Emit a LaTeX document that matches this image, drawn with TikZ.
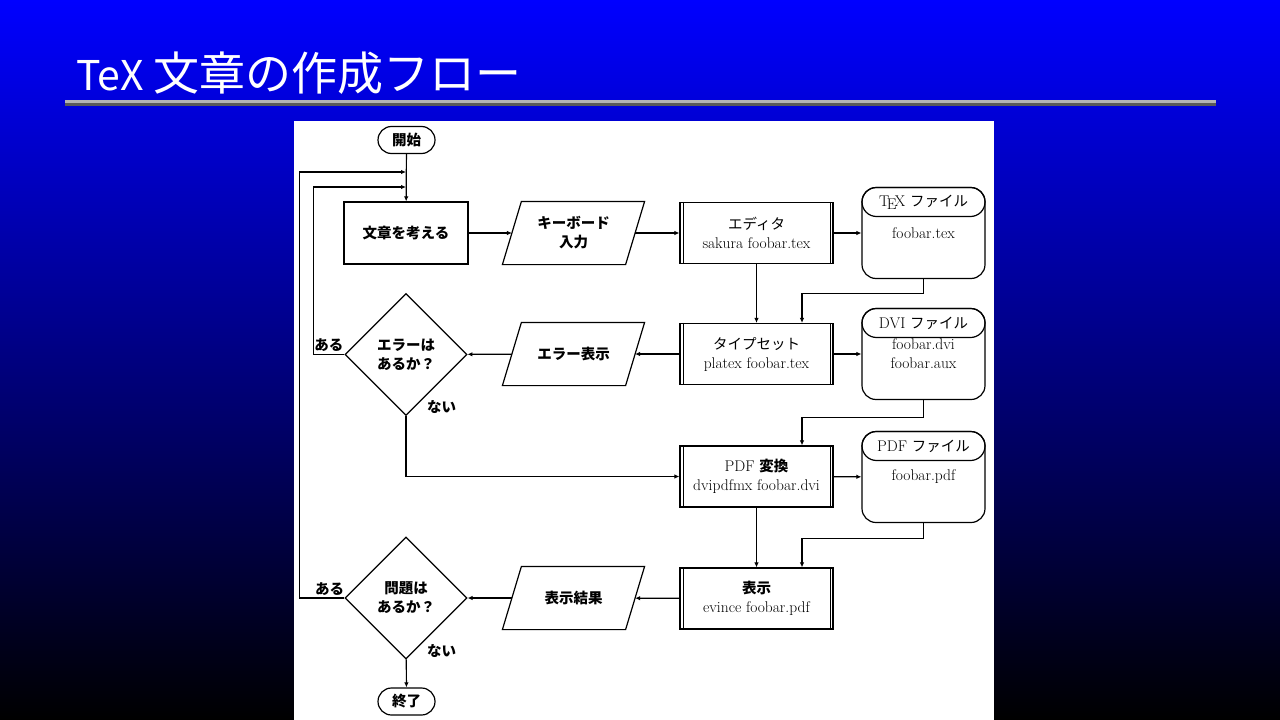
\documentclass[tikz,border=0pt]{standalone}
\usepackage{fontspec}
\usetikzlibrary{arrows.meta,shapes.geometric,shapes.misc,positioning,calc}
\newfontfamily\jpfont{Noto Sans CJK JP}
\newcommand\jpbold{\jpfont\bfseries}
\newcommand\jpreg{\jpfont\fontsize{14.5}{19}\selectfont}
\newcommand\jpboldreg{\jpbold\fontsize{14.5}{19}\selectfont}
\definecolor{rulelight}{HTML}{B4B4B4}
\definecolor{ruledark}{HTML}{5A5A5A}
\tikzset{
    base/.style={draw, line width=1.2pt, inner sep=2pt, align=center, font=\fontsize{15.5}{19}\selectfont},
    jb/.style={font=\jpboldreg},
    terminal/.style={base, jb, rounded rectangle, minimum width=61pt, minimum height=27pt},
    process/.style={base, jb, rectangle, minimum width=124pt, minimum height=62pt},
    predef/.style={base, rectangle, minimum width=153pt, minimum height=61pt},
    iobox/.style={base, jb, draw=none, minimum width=122pt, minimum height=62pt},
    decision/.style={base, jb, diamond, aspect=1, minimum width=122pt, minimum height=122pt, inner sep=0pt},
    filebox/.style={base, rounded corners=14pt, minimum width=123pt, minimum height=91pt},
    filehead/.style={base, rounded rectangle, minimum width=123pt, minimum height=29pt, inner sep=0pt},
    flow/.style={line width=1.2pt, -{Latex[length=5pt,width=4.5pt]}},
    branch/.style={jb, inner sep=2pt},
}
\begin{document}
\begin{tikzpicture}[x=1pt, y=-1pt]
    \useasboundingbox (0,0) rectangle (1280,720);
    % 背景
    \shade[top color=blue, bottom color=black] (0,0) rectangle (1280,720);
    \node[anchor=base west, text=white, inner sep=0pt] (title) at (76,90)
        {\fontsize{41}{41}\selectfont\jpfont TeX {\fontsize{46}{46}\selectfont 文章の作成フロー}};
    \fill[rulelight] (65,100) rectangle (1216,102.7);
    \fill[ruledark] (65,102.7) rectangle (1216,105.7);
    \fill[white] (294,121) rectangle (994,720);

    % 左の列
    \node[terminal] (start) at (406.5,140) {開始};
    \node[process] (think) at (406,233) {文章を考える};
    \node[decision] (q1) at (406,354.5) {エラーは\\あるか？};
    \node[decision] (q2) at (406,598) {問題は\\あるか？};
    \node[terminal] (end) at (406.5,701.5) {終了};
    \coordinate (j1) at (406,172);
    \coordinate (j2) at (406,187);

    % 入出力
    \node[iobox] (kb) at (573.5,233) {キーボード\\入力};
    \node[iobox] (err) at (573.5,354) {エラー表示};
    \node[iobox] (res) at (573.5,598) {表示結果};
    \foreach \n in {kb,err,res}
        \draw[line width=1.2pt] ([xshift=9.5pt]\n.north west) -- ([xshift=9.5pt]\n.north east)
            -- ([xshift=-9.5pt]\n.south east) -- ([xshift=-9.5pt]\n.south west) -- cycle;

    % 処理
    \node[predef] (edit) at (756.5,233) {{\jpreg エディタ}\\sakura foobar.tex};
    \node[predef] (tset) at (756.5,354) {{\jpreg タイプセット}\\platex foobar.tex};
    \node[predef] (pdf) at (756.5,476.5) {PDF {\jpboldreg 変換}\\dvipdfmx foobar.dvi};
    \node[predef] (disp) at (756.5,598.5) {{\jpboldreg 表示}\\evince foobar.pdf};
    \foreach \n in {edit,tset,pdf,disp} {
        \draw[line width=0.8pt] ([xshift=3.5pt]\n.north west) -- ([xshift=3.5pt]\n.south west);
        \draw[line width=0.8pt] ([xshift=-3.5pt]\n.north east) -- ([xshift=-3.5pt]\n.south east);
    }

    % ファイル
    \node[filebox] (texfile) at (923.5,233) {foobar.tex};
    \node[filehead, anchor=north] (texhead) at (texfile.north) {\TeX\ {\jpreg ファイル}};
    \node[filebox] (dvifile) at (923.5,354) {foobar.dvi\\foobar.aux};
    \node[filehead, anchor=north] (dvihead) at (dvifile.north) {DVI {\jpreg ファイル}};
    \node[filebox] (pdffile) at (923.5,477) {foobar.pdf};
    \node[filehead, anchor=north] (pdfhead) at (pdffile.north) {PDF {\jpreg ファイル}};

    % 矢印
    \draw[flow] (start) -- (think);
    \draw[flow] (think) -- (kb);
    \draw[flow] (kb) -- (edit);
    \draw[flow] (edit) -- (texfile);
    \draw[flow] (edit) -- (tset);
    \draw[flow] (texfile.south) -- ++(0,14) -| ([xshift=45.5pt]tset.north);
    \draw[flow] (tset) -- (dvifile);
    \draw[flow] (tset) -- (err);
    \draw[flow] (err) -- (q1);
    \draw[flow] (q1.west) -- node[branch, above]{ある} ++(-31,0) |- (j2);
    \draw[flow] (q1.south) |- (pdf.west);
    \node[branch, anchor=south west] (no1) at ([xshift=19pt]q1.south) {ない};
    \draw[flow] (dvifile.south) -- ++(0,17) -| ([xshift=45.5pt]pdf.north);
    \draw[flow] (pdf) -- (pdffile);
    \draw[flow] (pdf) -- (disp);
    \draw[flow] (pdffile.south) -- ++(0,15) -| ([xshift=45.5pt]disp.north);
    \draw[flow] (disp) -- (res);
    \draw[flow] (res) -- (q2);
    \draw[flow] (q2.west) -- node[branch, above, pos=0.33]{ある} ++(-45,0) |- (j1);
    \draw[flow] (q2) -- (end);
    \node[branch, anchor=south west] (no2) at ([xshift=19pt]q2.south) {ない};
\end{tikzpicture}
\end{document}
